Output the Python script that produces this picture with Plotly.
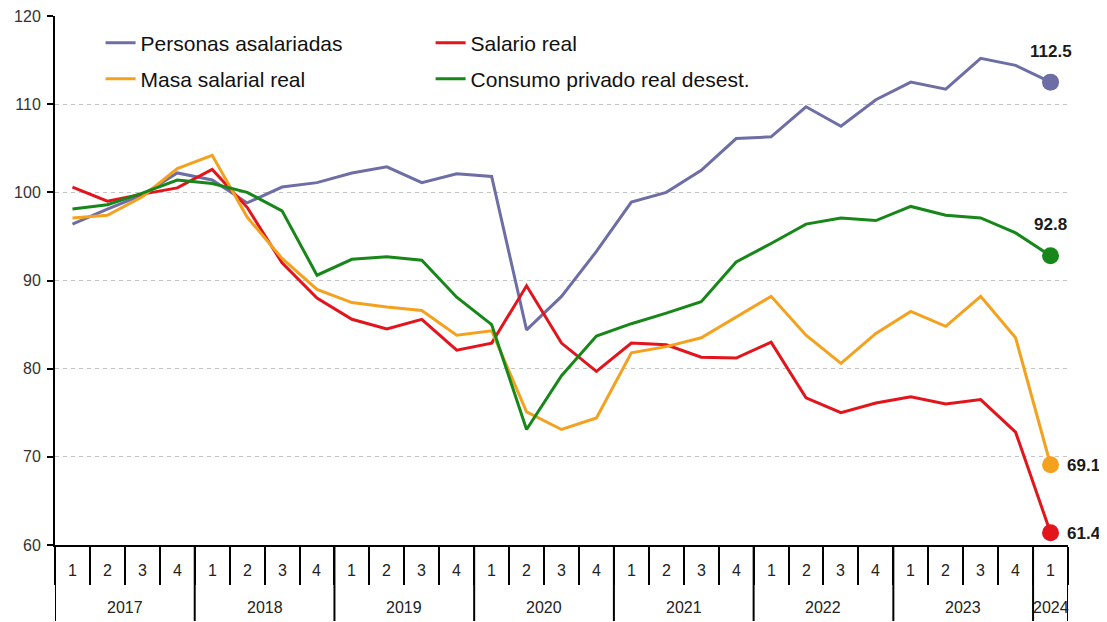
import plotly.graph_objects as go

years = ["2017", "2018", "2019", "2020", "2021", "2022", "2023", "2024"]
quarters_per_year = [4, 4, 4, 4, 4, 4, 4, 1]
quarter_labels = []
for n in quarters_per_year:
    quarter_labels += [str(q) for q in range(1, n + 1)]

personas = [96.4, 98.1, 99.7, 102.2, 101.4, 98.8, 100.6, 101.1, 102.2, 102.9, 101.1, 102.1,
            101.8, 84.4, 88.2, 93.3, 98.9, 100.0, 102.5, 106.1, 106.3, 109.7, 107.5, 110.5,
            112.5, 111.7, 115.2, 114.4, 112.5]
salario = [100.6, 99.0, 99.8, 100.5, 102.6, 98.3, 92.0, 88.0, 85.6, 84.5, 85.6, 82.1,
           82.9, 89.4, 82.9, 79.7, 82.9, 82.7, 81.3, 81.2, 83.0, 76.7, 75.0, 76.1,
           76.8, 76.0, 76.5, 72.8, 61.4]
masa = [97.1, 97.4, 99.5, 102.7, 104.2, 97.2, 92.5, 89.0, 87.5, 87.0, 86.6, 83.8,
        84.3, 75.1, 73.1, 74.4, 81.8, 82.5, 83.5, 85.9, 88.2, 83.8, 80.6, 84.0,
        86.5, 84.8, 88.2, 83.5, 69.1]
consumo = [98.1, 98.6, 99.9, 101.4, 101.0, 100.0, 97.9, 90.6, 92.4, 92.7, 92.3, 88.1,
           85.0, 73.1, 79.2, 83.7, 85.1, 86.3, 87.6, 92.1, 94.2, 96.4, 97.1, 96.8,
           98.4, 97.4, 97.1, 95.4, 92.8]

names = ["Personas asalariadas", "Salario real", "Masa salarial real", "Consumo privado real desest."]
colors = ["#6E6EA6", "#E3141B", "#F4A11E", "#17871A"]
series = [personas, salario, masa, consumo]
legend_ids = ["legend", "legend", "legend2", "legend2"]
label_side = ["above", "right", "right", "above"]

x = list(range(len(quarter_labels)))
fig = go.Figure()
for nm, col, ys, lg in zip(names, colors, series, legend_ids):
    fig.add_trace(go.Scatter(x=x, y=ys, mode="lines", name=nm, legend=lg,
                             line=dict(color=col, width=3)))
for nm, col, ys in zip(names, colors, series):
    fig.add_trace(go.Scatter(x=[x[-1]], y=[ys[-1]], mode="markers", showlegend=False,
                             marker=dict(color=col, size=17), hoverinfo="skip"))

# end labels
for ys, side in zip(series, label_side):
    if side == "above":
        fig.add_annotation(x=x[-1], y=ys[-1], text="<b>%.1f</b>" % ys[-1], showarrow=False,
                           yshift=31, font=dict(size=17, color="#1a1a1a"))
    else:
        fig.add_annotation(x=x[-1], y=ys[-1], text="<b>%.1f</b>" % ys[-1], showarrow=False,
                           xanchor="left", xshift=14, yshift=-1, font=dict(size=17, color="#1a1a1a"))

# x-axis labels: quarters and years
plot_h = 529
for i, q in enumerate(quarter_labels):
    fig.add_annotation(x=i, y=-25 / plot_h, yref="paper", text=q, showarrow=False,
                       font=dict(size=16, color="#222"), yanchor="middle")
start = 0
for yr, n in zip(years, quarters_per_year):
    center = start + (n - 1) / 2
    fig.add_annotation(x=center, y=-62 / plot_h, yref="paper", text=yr, showarrow=False,
                       font=dict(size=16, color="#222"), yanchor="middle")
    fig.add_shape(type="line", x0=start - 0.5, x1=start - 0.5, y0=0, y1=-76 / plot_h,
                  xref="x", yref="paper", line=dict(color="black", width=2))
    start += n
fig.add_shape(type="line", x0=start - 0.5, x1=start - 0.5, y0=0, y1=-76 / plot_h,
              xref="x", yref="paper", line=dict(color="black", width=2))

# page body has an 8px default margin: size the figure to fill the window from there
fig.update_layout(
    width=1099, height=614,
    margin=dict(l=47, r=39, t=8, b=77, autoexpand=False),
    plot_bgcolor="white", paper_bgcolor="white",
    font=dict(family="Liberation Sans, Arial, sans-serif", color="#222"),
    showlegend=True,
    legend=dict(orientation="h", x=0.045, y=1 - 27 / plot_h, xanchor="left", yanchor="middle",
                entrywidth=285, font=dict(size=21, color="#111"), bgcolor="rgba(0,0,0,0)",
                itemwidth=30),
    legend2=dict(orientation="h", x=0.045, y=1 - 63 / plot_h, xanchor="left", yanchor="middle",
                 entrywidth=285, font=dict(size=21, color="#111"), bgcolor="rgba(0,0,0,0)",
                 itemwidth=30),
)
fig.update_xaxes(range=[-0.5, len(x) - 0.5], showgrid=False, zeroline=False, automargin=False,
                 showline=True, linecolor="black", linewidth=2,
                 tickmode="array", tickvals=[i - 0.5 for i in range(len(x) + 1)],
                 ticks="outside", ticklen=38, tickwidth=2, tickcolor="black",
                 showticklabels=False)
fig.update_yaxes(range=[60, 120], tickmode="array", tickvals=[60, 70, 80, 90, 100, 110, 120],
                 showgrid=True, gridcolor="#c4c4c4", automargin=False,
                 griddash="4px,4px", gridwidth=1, zeroline=False,
                 showline=True, linecolor="black", linewidth=2,
                 ticks="outside", ticklen=6, tickwidth=2, tickcolor="black",
                 ticklabelstandoff=3, ticklabeloverflow="allow",
                 tickfont=dict(size=16, color="#333"))

fig.write_html("out.html")
